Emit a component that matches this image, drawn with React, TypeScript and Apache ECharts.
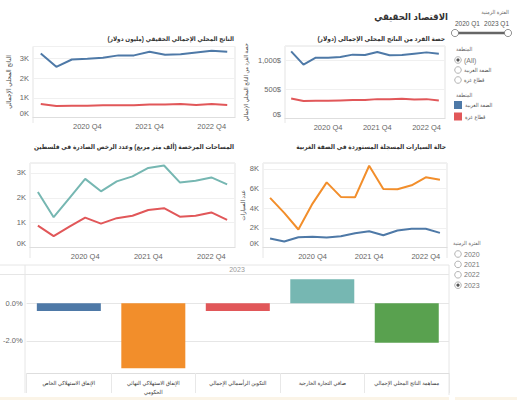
import React, { useEffect, useRef } from 'react';
import * as echarts from 'echarts';

const quarters = ['2020 Q1', '2020 Q2', '2020 Q3', '2020 Q4', '2021 Q1', '2021 Q2', '2021 Q3', '2021 Q4', '2022 Q1', '2022 Q2', '2022 Q3', '2022 Q4', '2023 Q1'];

// Real GDP (million USD)
const gdpWestBank = [3250, 2570, 2940, 2980, 3030, 3150, 3150, 3330, 3180, 3210, 3300, 3380, 3330];
const gdpGaza = [680, 580, 590, 600, 620, 620, 620, 660, 660, 680, 640, 680, 640];

// GDP per capita (USD)
const perCapitaWestBank = [1157, 930, 1049, 1049, 1061, 1101, 1095, 1147, 1089, 1095, 1118, 1140, 1118];
const perCapitaGaza = [346, 300, 305, 305, 312, 317, 317, 334, 334, 339, 329, 334, 312];

// Licensed areas (thousand m2) and number of permits
const licensedArea = [2230, 1220, 1990, 2760, 2260, 2660, 2860, 3200, 3300, 2620, 2690, 2820, 2540];
const permitsCount = [880, 460, 840, 1200, 960, 1180, 1280, 1510, 1580, 1240, 1280, 1410, 1110];

// Imported registered cars in the West Bank
const carsUsed = [5050, 3520, 1830, 4470, 6630, 5150, 5110, 8320, 5960, 5920, 6330, 7140, 6900];
const carsNew = [910, 610, 1050, 1090, 1020, 1150, 1450, 1650, 1250, 1730, 1900, 1900, 1490];

// Contributions to GDP growth 2023 (%)
const contribCategories = [
  'الإنفاق الاستهلاكي الخاص',
  'الإنفاق الاستهلاكي النهائي الحكومي',
  'التكوين الرأسمالي الإجمالي',
  'صافي التجارة الخارجية',
  'مساهمة الناتج المحلي الإجمالي',
];
const contribValues = [-0.41, -3.45, -0.41, 1.27, -2.09];

const regions = ['الضفة الغربية', 'قطاع غزة'];
const regionFilter = ['(All)', 'الضفة الغربية', 'قطاع غزة'];
const years = ['2020', '2021', '2022', '2023'];
const selectedYear = '2023';
const periodRange = ['2020 Q1', '2023 Q1'];

const FONT = "'Liberation Sans', 'DejaVu Sans Condensed', 'DejaVu Sans', sans-serif";
const COL = { blue: '#4e79a7', red: '#e15759', orange: '#f28e2b', teal: '#76b7b2', green: '#59a14f' };
const barColors = [COL.blue, COL.orange, COL.red, COL.teal, COL.green];
const regionColors = [COL.blue, COL.red];
const RLM = '\u200F';

const kFmt = (v: number) => `${Math.round(v / 1000)}K`;
const usdFmt = (v: number) => `${v.toLocaleString('en-US')}$`;

function qAxis(gridIndex: number) {
  return {
    type: 'category',
    gridIndex,
    data: quarters,
    boundaryGap: true,
    axisLine: { show: true, lineStyle: { color: '#dedede' } },
    axisTick: { show: false },
    splitLine: { show: false },
    axisLabel: {
      interval: (i: number) => i % 4 === 3,
      color: '#666',
      fontSize: 7.5,
      margin: 5,
      fontFamily: FONT,
    },
  };
}

function vAxis(gridIndex: number, max: number, interval: number, fmt: (v: number) => string, name?: string, nameGap?: number, nameSize?: number) {
  const ax: any = {
    type: 'value',
    gridIndex,
    min: 0,
    max,
    interval,
    axisLine: { show: false },
    axisTick: { show: false },
    splitLine: { lineStyle: { color: '#f0f0f0', width: 1 } },
    axisLabel: {
      showMaxLabel: false,
      color: '#666',
      fontSize: 7.5,
      margin: 4,
      fontFamily: FONT,
      formatter: (v: number) => (v === 0 ? `{z|${fmt(v)}}` : fmt(v)),
      rich: { z: { padding: [0, 0, 8, 0], fontSize: 7.5, color: '#666', fontFamily: FONT } },
    },
  };
  if (name) {
    ax.name = name;
    ax.nameLocation = 'middle';
    ax.nameGap = nameGap;
    ax.nameRotate = 90;
    ax.nameTextStyle = { color: '#444', fontSize: nameSize || 6.5, fontFamily: FONT };
  }
  return ax;
}

function line(name: string, data: number[], color: string, idx: number) {
  return {
    type: 'line',
    name,
    xAxisIndex: idx,
    yAxisIndex: idx,
    data,
    symbol: 'none',
    lineStyle: { color, width: 2 },
    itemStyle: { color },
  };
}

function txt(text: string, x: number, y: number, o: any = {}) {
  return {
    type: 'text',
    x,
    y,
    silent: true,
    style: {
      text,
      fill: o.fill || '#333',
      fontSize: o.size || 7,
      fontWeight: o.bold ? 'bold' : 'normal',
      fontFamily: FONT,
      align: o.align || 'right',
      verticalAlign: 'middle',
    },
  };
}

function radio(x: number, y: number, selected: boolean) {
  const els: any[] = [
    { type: 'circle', silent: true, shape: { cx: x, cy: y, r: 3.3 }, style: { fill: '#fff', stroke: '#a0a0a0', lineWidth: 0.8 } },
  ];
  if (selected) els.push({ type: 'circle', silent: true, shape: { cx: x, cy: y, r: 1.6 }, style: { fill: '#555' } });
  return els;
}

function hline(x1: number, x2: number, y: number, color = '#e6e6e6') {
  return { type: 'line', silent: true, shape: { x1, y1: y, x2, y2: y }, style: { stroke: color, lineWidth: 1 } };
}
function vline(x: number, y1: number, y2: number, color = '#e6e6e6') {
  return { type: 'line', silent: true, shape: { x1: x, y1, x2: x, y2 }, style: { stroke: color, lineWidth: 1 } };
}

function buildOption() {
  const graphics: any[] = [];
  graphics.push({ type: 'rect', silent: true, shape: { x: 0, y: 397, width: 449, height: 3 }, style: { fill: '#fbf4e7' } });
  graphics.push({ type: 'rect', silent: true, shape: { x: 455, y: 397, width: 62, height: 3 }, style: { fill: '#fbf4e7' } });

  // titles
  graphics.push(txt('الاقتصاد الحقيقي', 448, 16, { size: 9.5, bold: true, fill: '#333' }));
  graphics.push(txt('حصة الفرد من الناتج المحلي الإجمالي (دولار)' + RLM, 445, 38, { size: 6.5, bold: true, fill: '#333' }));
  graphics.push(txt('الناتج المحلي الإجمالي الحقيقي (مليون دولار)' + RLM, 234, 38, { size: 6.3, bold: true, fill: '#333' }));
  graphics.push(txt('المساحات المرخصة (ألف متر مربع) وعدد الرخص الصادرة في فلسطين', 234, 146, { size: 6.5, bold: true, fill: '#333' }));
  graphics.push(txt('حالة السيارات المسجلة المستوردة في الضفة الغربية', 446, 146, { size: 6.5, bold: true, fill: '#333' }));

  // period slider filter
  graphics.push(txt('الفترة الزمنية', 509, 12, { size: 5.5, fill: '#666' }));
  graphics.push(txt(periodRange[0], 455, 23, { size: 6.5, fill: '#555', align: 'left' }));
  graphics.push(txt(periodRange[1], 509, 23, { size: 6.5, fill: '#555', align: 'right' }));
  graphics.push({ type: 'line', silent: true, shape: { x1: 455, y1: 33, x2: 508, y2: 33 }, style: { stroke: '#666', lineWidth: 2.5 } });
  graphics.push({ type: 'circle', silent: true, shape: { cx: 455, cy: 33, r: 3.6 }, style: { fill: '#fff', stroke: '#777', lineWidth: 0.8 } });
  graphics.push({ type: 'circle', silent: true, shape: { cx: 508, cy: 33, r: 3.6 }, style: { fill: '#fff', stroke: '#777', lineWidth: 0.8 } });

  // region filter
  graphics.push(txt('المنطقة', 456, 49, { size: 5.5, fill: '#666', align: 'left' }));
  regionFilter.forEach((r, i) => {
    const y = 60 + i * 10;
    graphics.push(...radio(458, y, i === 0));
    graphics.push(txt(r, 464, y, { size: i === 0 ? 7 : 5.5, fill: i === 0 ? '#777' : '#555', align: 'left' }));
  });

  // region legend
  graphics.push(txt('المنطقة', 456, 95, { size: 5.5, fill: '#666', align: 'left' }));
  regions.forEach((r, i) => {
    const y = 105 + i * 11.5;
    graphics.push({ type: 'rect', silent: true, shape: { x: 454, y: y - 4, width: 8, height: 8 }, style: { fill: regionColors[i] } });
    graphics.push(txt(r, 465, y, { size: 5.5, fill: '#555', align: 'left' }));
  });

  // year filter
  graphics.push(txt('الفترة الزمنية', 453, 243, { size: 5.5, fill: '#666', align: 'left' }));
  years.forEach((yr, i) => {
    const y = 254 + i * 10.4;
    graphics.push(...radio(458, y, yr === selectedYear));
    graphics.push(txt(yr, 464, y, { size: 7, fill: '#777', align: 'left' }));
  });

  // bottom panel frame
  graphics.push(hline(0, 449, 265));
  graphics.push(hline(0, 449, 274.5));
  graphics.push(vline(25, 265, 393));
  graphics.push(vline(449, 265, 395));
  graphics.push(txt(selectedYear, 237, 269.5, { size: 7, fill: '#999', align: 'center' }));
  graphics.push(vline(263, 247, 258));
  graphics.push(vline(447, 247, 258));
  graphics.push(vline(30, 247, 258));
  graphics.push(vline(33, 117, 123));
  graphics.push(vline(285, 118, 123));

  const gridBox = { show: true, borderColor: '#e3e3e3', borderWidth: 1, backgroundColor: 'transparent' };

  return {
    animation: false,
    backgroundColor: '#fff',
    textStyle: { fontFamily: FONT },
    grid: [
      { left: 33, top: 46.5, width: 202, height: 71, ...gridBox },
      { left: 285, top: 46, width: 160, height: 72.5, ...gridBox },
      { left: 30, top: 163, width: 205, height: 84.5, ...gridBox },
      { left: 263, top: 163, width: 184, height: 84.5, ...gridBox },
      { left: 25, top: 275, width: 424, height: 98, show: false },
    ],
    xAxis: [
      qAxis(0),
      qAxis(1),
      qAxis(2),
      qAxis(3),
      {
        type: 'category',
        gridIndex: 4,
        data: contribCategories,
        boundaryGap: true,
        position: 'bottom',
        axisLine: { show: true, onZero: false, lineStyle: { color: '#dedede' } },
        axisTick: { show: true, interval: 0, length: 20, lineStyle: { color: '#e8e8e8' } },
        splitLine: { show: false },
        axisLabel: {
          interval: 0,
          color: '#333',
          fontSize: 5.6,
          margin: 5,
          lineHeight: 9,
          fontFamily: FONT,
          formatter: (v: string) => (v.length > 30 ? v.replace(/ (\S+)$/, '\n$1') : v),
        },
      },
    ],
    yAxis: [
      vAxis(0, 3600, 1000, kFmt, 'الناتج المحلي الإجمالي', 21, 6.5),
      vAxis(1, 1250, 500, usdFmt, 'حصة الفرد من الناتج المحلي الإجمالي', 36, 5.6),
      vAxis(2, 3400, 1000, kFmt),
      vAxis(3, 8600, 2000, kFmt, 'عدد السيارات', 15, 6),
      {
        type: 'value',
        gridIndex: 4,
        min: -3.7,
        max: 1.5,
        axisLine: { show: false },
        axisTick: { show: false },
        splitLine: { show: false },
        axisLabel: {
          customValues: [0, -2],
          color: '#666',
          fontSize: 7.5,
          margin: 4,
          fontFamily: FONT,
          formatter: (v: number) => `${v.toFixed(1)}%`,
        },
      },
    ],
    series: [
      line(regions[0], gdpWestBank, COL.blue, 0),
      line(regions[1], gdpGaza, COL.red, 0),
      line(regions[0], perCapitaWestBank, COL.blue, 1),
      line(regions[1], perCapitaGaza, COL.red, 1),
      line('المساحات المرخصة', licensedArea, COL.teal, 2),
      line('عدد الرخص', permitsCount, COL.red, 2),
      line('مستعملة', carsUsed, COL.orange, 3),
      line('جديدة', carsNew, COL.blue, 3),
      {
        type: 'bar',
        xAxisIndex: 4,
        yAxisIndex: 4,
        barWidth: 64,
        data: contribValues.map((v, i) => ({ value: v, itemStyle: { color: barColors[i] } })),
        markLine: {
          silent: true,
          symbol: 'none',
          label: { show: false },
          lineStyle: { color: '#e6e6e6', type: 'solid', width: 1 },
          data: [{ yAxis: 0 }, { yAxis: -2 }],
          z: 0,
        },
      },
    ],
    graphic: graphics,
  };
}

export default function App() {
  const ref = useRef<HTMLDivElement>(null);
  useEffect(() => {
    document.body.style.margin = '0';
    if (!ref.current) return;
    const chart = echarts.init(ref.current, undefined, { renderer: 'svg' });
    chart.setOption(buildOption() as any);
    return () => chart.dispose();
  }, []);
  return <div ref={ref} style={{ width: 517, height: 400 }} />;
}
